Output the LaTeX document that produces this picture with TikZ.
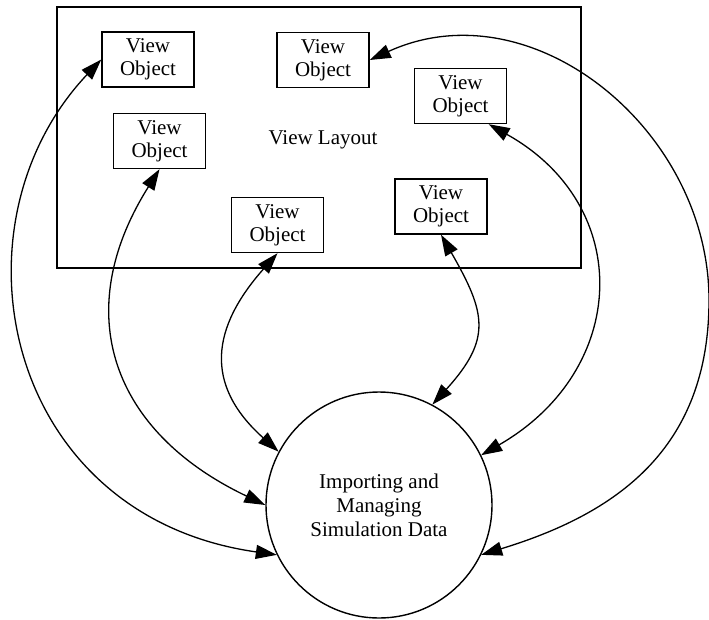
\documentclass[tikz,border=0pt]{standalone}
\usepackage{fontspec}
\setmainfont{Liberation Serif}
\usetikzlibrary{arrows.meta}
\tikzset{
  vobox/.style={draw, line width=1.4pt, minimum width=92pt, minimum height=55pt, inner sep=0pt, align=center, font=\fontsize{21}{23}\selectfont},
  link/.style={line width=1.3pt, {Triangle[length=21pt,width=14pt]}-{Triangle[length=21pt,width=14pt]}},
  frame/.style={draw, line width=1.4pt},
}
\begin{document}
\begin{tikzpicture}[x=1pt,y=-1pt]
\useasboundingbox (0,0) rectangle (709,619);
\draw[frame] (57,7) rectangle (581,268);
\node[font=\fontsize{21}{23}\selectfont] (layout) at (323,140) {View Layout};
\node[vobox] (vo1) at (148,59.5) {View\\Object};
\node[vobox] (vo2) at (323,60) {View\\Object};
\node[vobox] (vo3) at (460.5,96) {View\\Object};
\node[vobox] (vo4) at (159.5,141) {View\\Object};
\node[vobox] (vo5) at (277.5,225) {View\\Object};
\node[vobox] (vo6) at (441,206.5) {View\\Object};
\node[draw, circle, line width=1.4pt, minimum size=226pt, inner sep=0pt, align=center, font=\fontsize{21}{24}\selectfont] (data) at (379,505) {Importing and\\Managing\\Simulation Data};
\coordinate (m6) at (709,300);
\draw[link] (vo1.west) .. controls (-55,225) and (3,516) .. (data.206);
\draw[link] (vo4.south) .. controls (69,313) and (112,432) .. (data.180);
\draw[link] (vo5.south) .. controls (212,327) and (203,384) .. (data.152.5);
\draw[link] (vo6.south) .. controls (486,313) and (492,339) .. (data.62.5);
\draw[link] (vo3.-45) .. controls (635,206) and (629,370) .. (data.26);
\draw[link] (vo2.east) .. controls (532,-14) and (709,130) .. (m6) .. controls (709,450) and (615,514) .. (data.-26);
\end{tikzpicture}
\end{document}
